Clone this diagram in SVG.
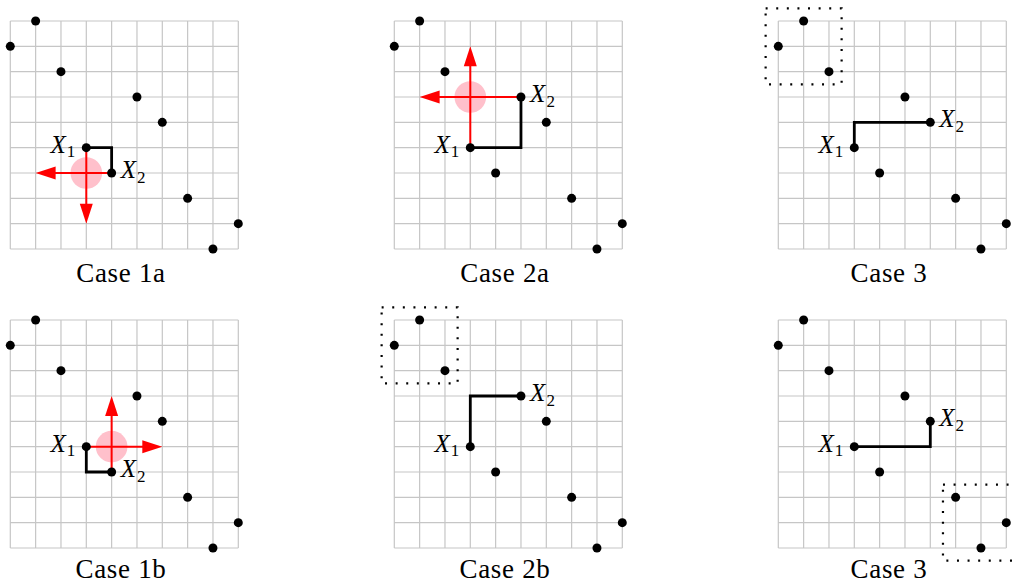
<svg xmlns="http://www.w3.org/2000/svg" width="1012" height="583" viewBox="0 0 1012 583">
<style>
.grid{fill:none;stroke:#c6c6c6;stroke-width:1.2}
.pt{fill:#000}
.hl{fill:#ffc0cb}
.red{fill:none;stroke:#ff0000;stroke-width:2;marker-end:url(#ah)}
.path{fill:none;stroke:#000;stroke-width:2.8;stroke-linejoin:miter;stroke-linecap:butt}
.box{fill:none;stroke:#000;stroke-width:2.2;stroke-dasharray:2 8.6}
.lbl{font-style:italic;font-size:25px;fill:#000}
.sub{font-style:normal;font-size:17px}
.cap{font-size:27px;letter-spacing:0.7px;fill:#000;text-anchor:middle}
</style>
<defs>
<marker id="ah" viewBox="-11 -7 22 14" refX="0" refY="0" markerWidth="22" markerHeight="14" markerUnits="userSpaceOnUse" orient="auto">
<path d="M10,0 L-10,-6.5 L-10,6.5 Z" fill="#ff0000"/>
</marker>
<path id="grid" class="grid" d="M0,0V228M25.33,0V228M50.67,0V228M76,0V228M101.33,0V228M126.67,0V228M152,0V228M177.33,0V228M202.67,0V228M228,0V228M0,0H228M0,25.33H228M0,50.67H228M0,76H228M0,101.33H228M0,126.67H228M0,152H228M0,177.33H228M0,202.67H228M0,228H228"/>
<g id="pts" class="pt">
<circle cx="25.33" cy="0" r="4.5"/>
<circle cx="0" cy="25.33" r="4.5"/>
<circle cx="50.67" cy="50.67" r="4.5"/>
<circle cx="126.67" cy="76" r="4.5"/>
<circle cx="152" cy="101.33" r="4.5"/>
<circle cx="76" cy="126.67" r="4.5"/>
<circle cx="101.33" cy="152" r="4.5"/>
<circle cx="177.33" cy="177.33" r="4.5"/>
<circle cx="228" cy="202.67" r="4.5"/>
<circle cx="202.67" cy="228" r="4.5"/>
</g>
</defs>

<g id="case-1a" transform="translate(10.3,21)">
<use href="#grid"/>
<circle class="hl" cx="76" cy="152" r="15.8"/>
<g id="connectors-1a">
<line class="red" x1="101.33" y1="152" x2="35.33" y2="152"/>
<line class="red" x1="76" y1="126.67" x2="76" y2="192.67"/>
<path class="path" d="M76,126.67H101.33V152"/>
</g>
<use href="#pts"/>
<text class="lbl" font-family="'Liberation Serif', serif" x="65" y="131.67" text-anchor="end">X<tspan class="sub" dx="1" dy="4.5">1</tspan></text>
<text class="lbl" font-family="'Liberation Serif', serif" x="110.5" y="157">X<tspan class="sub" dx="1" dy="4.5">2</tspan></text>
<text class="cap" font-family="'Liberation Serif', serif" x="110.7" y="260.5">Case 1a</text>
</g>

<g id="case-2a" transform="translate(394.3,21)">
<use href="#grid"/>
<circle class="hl" cx="76" cy="76" r="15.8"/>
<g id="connectors-2a">
<line class="red" x1="126.67" y1="76" x2="35.33" y2="76"/>
<line class="red" x1="76" y1="126.67" x2="76" y2="35.33"/>
<path class="path" d="M76,126.67H126.67V76"/>
</g>
<use href="#pts"/>
<text class="lbl" font-family="'Liberation Serif', serif" x="65" y="131.67" text-anchor="end">X<tspan class="sub" dx="1" dy="4.5">1</tspan></text>
<text class="lbl" font-family="'Liberation Serif', serif" x="135.8" y="81">X<tspan class="sub" dx="1" dy="4.5">2</tspan></text>
<text class="cap" font-family="'Liberation Serif', serif" x="110.7" y="260.5">Case 2a</text>
</g>

<g id="case-3-top" transform="translate(778.3,21)">
<use href="#grid"/>
<rect class="box" x="-12.67" y="-12.67" width="76" height="76"/>
<g id="connectors-3-top">
<path class="path" d="M76,126.67V101.33H152"/>
</g>
<use href="#pts"/>
<text class="lbl" font-family="'Liberation Serif', serif" x="65" y="131.67" text-anchor="end">X<tspan class="sub" dx="1" dy="4.5">1</tspan></text>
<text class="lbl" font-family="'Liberation Serif', serif" x="161" y="106.33">X<tspan class="sub" dx="1" dy="4.5">2</tspan></text>
<text class="cap" font-family="'Liberation Serif', serif" x="110.7" y="260.5">Case 3</text>
</g>

<g id="case-1b" transform="translate(10.3,320)">
<use href="#grid"/>
<circle class="hl" cx="101.33" cy="126.67" r="15.8"/>
<g id="connectors-1b">
<line class="red" x1="76" y1="126.67" x2="142" y2="126.67"/>
<line class="red" x1="101.33" y1="152" x2="101.33" y2="86"/>
<path class="path" d="M76,126.67V152H101.33"/>
</g>
<use href="#pts"/>
<text class="lbl" font-family="'Liberation Serif', serif" x="65" y="131.67" text-anchor="end">X<tspan class="sub" dx="1" dy="4.5">1</tspan></text>
<text class="lbl" font-family="'Liberation Serif', serif" x="110.5" y="157">X<tspan class="sub" dx="1" dy="4.5">2</tspan></text>
<text class="cap" font-family="'Liberation Serif', serif" x="110.7" y="258">Case 1b</text>
</g>

<g id="case-2b" transform="translate(394.3,320)">
<use href="#grid"/>
<rect class="box" x="-12.67" y="-12.67" width="76" height="76"/>
<g id="connectors-2b">
<path class="path" d="M76,126.67V76H126.67"/>
</g>
<use href="#pts"/>
<text class="lbl" font-family="'Liberation Serif', serif" x="65" y="131.67" text-anchor="end">X<tspan class="sub" dx="1" dy="4.5">1</tspan></text>
<text class="lbl" font-family="'Liberation Serif', serif" x="135.8" y="81">X<tspan class="sub" dx="1" dy="4.5">2</tspan></text>
<text class="cap" font-family="'Liberation Serif', serif" x="110.7" y="258">Case 2b</text>
</g>

<g id="case-3-bottom" transform="translate(778.3,320)">
<use href="#grid"/>
<rect class="box" x="164.67" y="164.67" width="76" height="76"/>
<g id="connectors-3-bottom">
<path class="path" d="M76,126.67H152V101.33"/>
</g>
<use href="#pts"/>
<text class="lbl" font-family="'Liberation Serif', serif" x="65" y="131.67" text-anchor="end">X<tspan class="sub" dx="1" dy="4.5">1</tspan></text>
<text class="lbl" font-family="'Liberation Serif', serif" x="161" y="106.33">X<tspan class="sub" dx="1" dy="4.5">2</tspan></text>
<text class="cap" font-family="'Liberation Serif', serif" x="110.7" y="258">Case 3</text>
</g>
</svg>
